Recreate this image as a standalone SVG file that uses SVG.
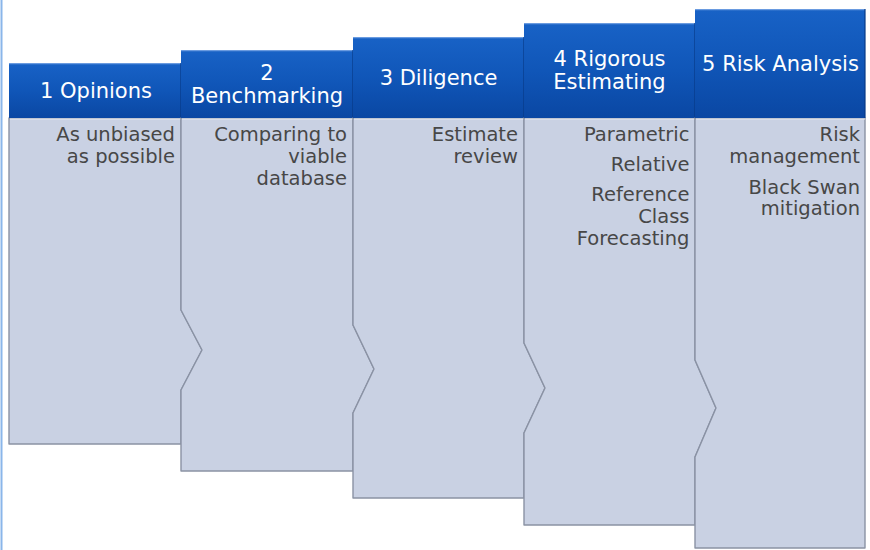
<svg xmlns="http://www.w3.org/2000/svg" width="870" height="550" viewBox="0 0 870 550">
<defs>
<linearGradient id="hdr" x1="0" y1="0" x2="0" y2="1">
<stop offset="0" stop-color="#1862c6"/>
<stop offset="0.5" stop-color="#1056b8"/>
<stop offset="1" stop-color="#0a47a3"/>
</linearGradient>
<style>
.body{fill:#c9d1e3;stroke:#8a92a4;stroke-width:1.4;stroke-linejoin:round}
.hdr{fill:url(#hdr)}
.hl{stroke:#6a9be0;stroke-width:1.2}
.hs{stroke:#083a86;stroke-width:1.2}
.bt{stroke:#e6e9f2;stroke-width:1.2}
.ht{font-family:"DejaVu Sans",Verdana,sans-serif;font-size:21px;fill:#ffffff;text-anchor:middle}
.tx{font-family:"DejaVu Sans",Verdana,sans-serif;font-size:19.5px;fill:#474747;text-anchor:end}
</style>
</defs>
<rect width="870" height="550" fill="#ffffff"/>
<line x1="1.5" y1="0" x2="1.5" y2="550" stroke="#8ab6ea" stroke-width="2"/>

<g id="col1">
<polygon class="body" points="9,118 181,118 181,310 202,350 181,390 181,444 9,444"/>
<line class="bt" x1="10" y1="119" x2="181" y2="119"/>
<rect class="hdr" x="9" y="63" width="172" height="55"/>
<line class="hl" x1="9" y1="63.6" x2="181" y2="63.6"/>
<line class="hs" x1="181" y1="63" x2="181" y2="118"/>
<text class="ht" x="96" y="98">1 Opinions</text>
<text class="tx" x="175" y="141">As unbiased</text>
<text class="tx" x="175" y="163">as possible</text>
</g>

<g id="col2">
<polygon class="body" points="181,118 353,118 353,325 374,369 353,413 353,471 181,471 181,390 202,350 181,310"/>
<line class="bt" x1="182" y1="119" x2="353" y2="119"/>
<rect class="hdr" x="181" y="50" width="172" height="68"/>
<line class="hl" x1="181" y1="50.6" x2="353" y2="50.6"/>
<line class="hs" x1="353" y1="50" x2="353" y2="118"/>
<text class="ht" x="267" y="79.5">2</text>
<text class="ht" x="267" y="102.7">Benchmarking</text>
<text class="tx" x="347" y="141">Comparing to</text>
<text class="tx" x="347" y="163">viable</text>
<text class="tx" x="347" y="185">database</text>
</g>

<g id="col3">
<polygon class="body" points="353,118 524,118 524,343 545,388 524,433 524,498 353,498 353,413 374,369 353,325"/>
<line class="bt" x1="354" y1="119" x2="524" y2="119"/>
<rect class="hdr" x="353" y="37" width="171" height="81"/>
<line class="hl" x1="353" y1="37.6" x2="524" y2="37.6"/>
<line class="hs" x1="524" y1="37" x2="524" y2="118"/>
<text class="ht" x="438.5" y="84.5">3 Diligence</text>
<text class="tx" x="518" y="141">Estimate</text>
<text class="tx" x="518" y="163">review</text>
</g>

<g id="col4">
<polygon class="body" points="524,118 695,118 695,360 716,408 695,457 695,525 524,525 524,433 545,388 524,343"/>
<line class="bt" x1="525" y1="119" x2="695" y2="119"/>
<rect class="hdr" x="524" y="23" width="171" height="95"/>
<line class="hl" x1="524" y1="23.6" x2="695" y2="23.6"/>
<line class="hs" x1="695" y1="23" x2="695" y2="118"/>
<text class="ht" x="609.5" y="65.5">4 Rigorous</text>
<text class="ht" x="609.5" y="88.5">Estimating</text>
<text class="tx" x="689.5" y="140.5">Parametric</text>
<text class="tx" x="689.5" y="170.5">Relative</text>
<text class="tx" x="689.5" y="201">Reference</text>
<text class="tx" x="689.5" y="222.5">Class</text>
<text class="tx" x="689.5" y="244.5">Forecasting</text>
</g>

<g id="col5">
<polygon class="body" points="695,118 865,118 865,548 695,548 695,457 716,408 695,360"/>
<line class="bt" x1="696" y1="119" x2="865" y2="119"/>
<rect class="hdr" x="695" y="9" width="170" height="109"/>
<line class="hl" x1="695" y1="9.6" x2="865" y2="9.6"/>
<line class="hs" x1="865" y1="9" x2="865" y2="118"/>
<text class="ht" x="780.5" y="71">5 Risk Analysis</text>
<text class="tx" x="860" y="140.5">Risk</text>
<text class="tx" x="860" y="162.5">management</text>
<text class="tx" x="860" y="193.5">Black Swan</text>
<text class="tx" x="860" y="214.5">mitigation</text>
</g>

<g id="connectors"></g>
</svg>
